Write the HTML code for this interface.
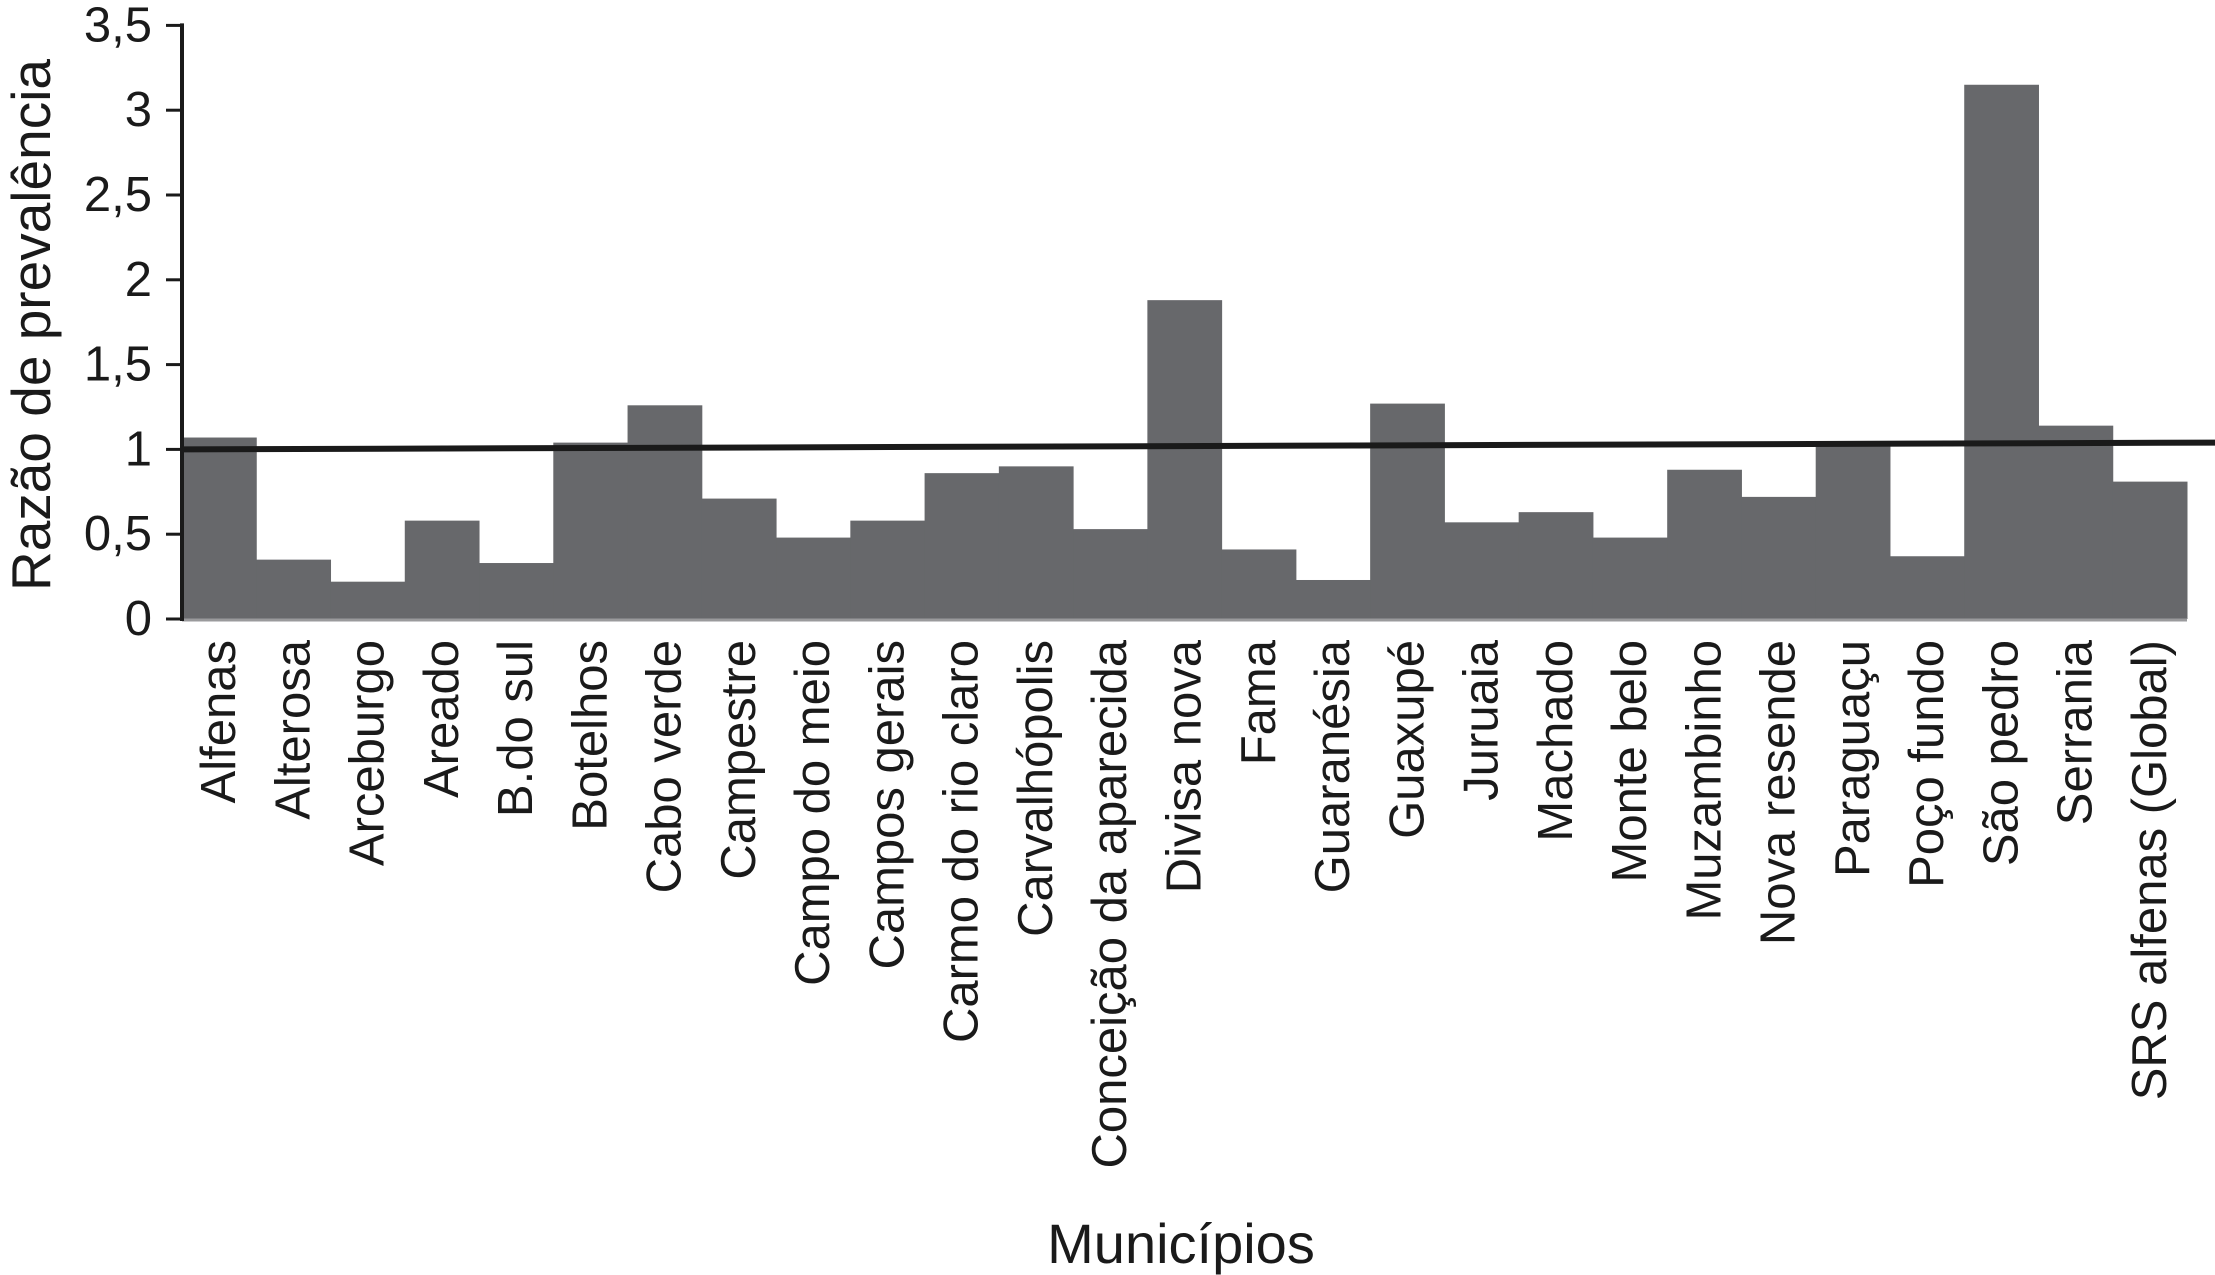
<!DOCTYPE html>
<html><head><meta charset="utf-8"><style>
html,body{margin:0;padding:0;background:#fff;}
svg{display:block;font-family:"Liberation Sans",Arial,sans-serif;}
</style></head><body>
<svg id="chart" width="2215" height="1275" viewBox="0 0 2215 1275">
<g id="bars"></g>
<g id="yaxis"></g>
<g id="xlabels"></g>
<text x="31" y="325" font-size="55" text-anchor="middle" dominant-baseline="central" transform="rotate(-90 31 325)" fill="#1a1a1a">Razão de prevalência</text>
<text x="1181" y="1263" font-size="56" text-anchor="middle" fill="#1a1a1a">Municípios</text>
</svg>
<script>
const categories = ["Alfenas","Alterosa","Arceburgo","Areado","B.do sul","Botelhos","Cabo verde","Campestre","Campo do meio","Campos gerais","Carmo do rio claro","Carvalhópolis","Conceição da aparecida","Divisa nova","Fama","Guaranésia","Guaxupé","Juruaia","Machado","Monte belo","Muzambinho","Nova resende","Paraguaçu","Poço fundo","São pedro","Serrania","SRS alfenas (Global)"];
const values = [1.07,0.35,0.22,0.58,0.33,1.04,1.26,0.71,0.48,0.58,0.86,0.90,0.53,1.88,0.41,0.23,1.27,0.57,0.63,0.48,0.88,0.72,1.04,0.37,3.15,1.14,0.81];
const yTicks = [0,0.5,1,1.5,2,2.5,3,3.5];
const yTickLabels = ["0","0,5","1","1,5","2","2,5","3","3,5"];
const refLine = [1.0, 1.04];

const NS="http://www.w3.org/2000/svg";
const x0=182, x1=2187, yBase=619, yTop=25.4, vMax=3.5;
const bw=(x1-x0)/categories.length;
function yScale(v){return yBase-(v/vMax)*(yBase-yTop);}
function xScale(i){return x0+i*bw;}
function mk(tag,attrs,parent){const e=document.createElementNS(NS,tag);for(const k in attrs)e.setAttribute(k,attrs[k]);parent.appendChild(e);return e;}

const bars=document.getElementById('bars');
values.forEach((v,i)=>{
  const r=mk('rect',{x:xScale(i),y:yScale(v),width:bw+0.5,height:yBase-yScale(v),fill:'#67686b'},bars);
  
  
});
const base=mk('line',{x1:x0,y1:yBase+1,x2:x1,y2:yBase+1,stroke:'#9a9a9c','stroke-width':3},bars);



const ref=mk('line',{x1:x0,y1:yScale(refLine[0]),x2:2215,y2:yScale(refLine[1]),stroke:'#1a1a1a','stroke-width':6},bars);



const ya=document.getElementById('yaxis');
const al=mk('line',{x1:x0,y1:yTop-2,x2:x0,y2:yBase+2,stroke:'#1a1a1a','stroke-width':4},ya);


yTicks.forEach((t,i)=>{
  const y=yScale(t);
  const tk=mk('line',{x1:166,y1:y,x2:x0,y2:y,stroke:'#1a1a1a','stroke-width':3},ya);
  
  
  const tx=mk('text',{x:152,y:y,'font-size':49,'text-anchor':'end','dominant-baseline':'central',fill:'#1a1a1a'},ya);
  tx.textContent=yTickLabels[i];
  
  
});

const xl=document.getElementById('xlabels');
categories.forEach((c,i)=>{
  const cx=xScale(i)+bw/2, ty=640;
  const t=mk('text',{x:cx,y:ty,'font-size':49,'text-anchor':'end','dominant-baseline':'central',transform:`rotate(-90 ${cx} ${ty})`,fill:'#1a1a1a'},xl);
  t.textContent=c;
  
  
});
</script>
</body></html>
